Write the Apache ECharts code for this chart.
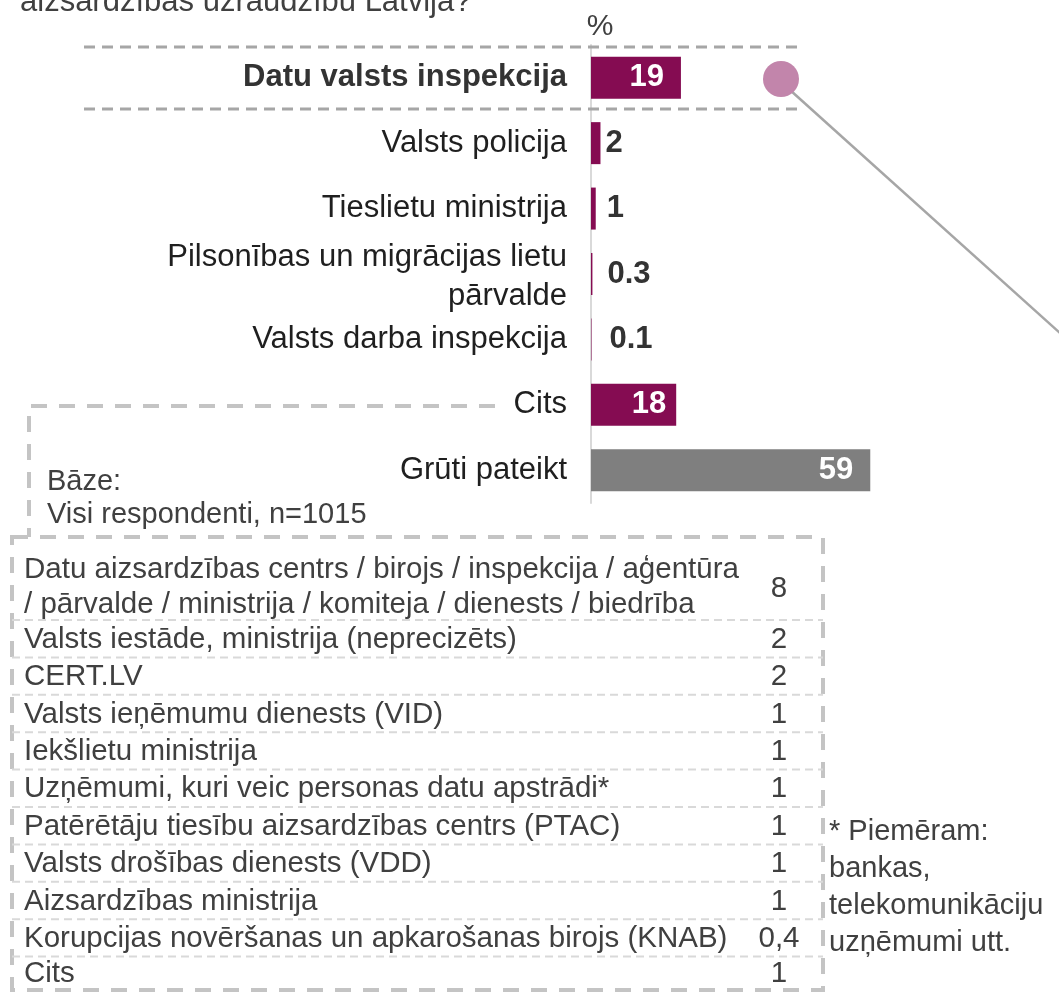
<!DOCTYPE html>
<html><head><meta charset="utf-8">
<script src="https://cdn.jsdelivr.net/npm/echarts@6/dist/echarts.min.js"></script>
<style>html,body{margin:0;padding:0;background:#fff}#c{width:1059px;height:995px}</style>
</head><body><div id="c"></div>
<script>
// ---- data ----
const titleText = 'aizsardzības uzraudzību Latvijā?';
const unitText = '%';
const categories = [
  'Datu valsts inspekcija',
  'Valsts policija',
  'Tieslietu ministrija',
  'Pilsonības un migrācijas lietu\npārvalde',
  'Valsts darba inspekcija',
  'Cits',
  'Grūti pateikt'
];
const values = [19, 2, 1, 0.3, 0.1, 18, 59];
const valueLabels = ['19', '2', '1', '0.3', '0.1', '18', '59'];
const baseText = ['Bāze:', 'Visi respondenti, n=1015'];
const tableLabels = [
  'Datu aizsardzības centrs / birojs / inspekcija / aģentūra\n/ pārvalde / ministrija / komiteja / dienests / biedrība',
  'Valsts iestāde, ministrija (neprecizēts)',
  'CERT.LV',
  'Valsts ieņēmumu dienests (VID)',
  'Iekšlietu ministrija',
  'Uzņēmumi, kuri veic personas datu apstrādi*',
  'Patērētāju tiesību aizsardzības centrs (PTAC)',
  'Valsts drošības dienests (VDD)',
  'Aizsardzības ministrija',
  'Korupcijas novēršanas un apkarošanas birojs (KNAB)',
  'Cits'
];
const tableValues = ['8', '2', '2', '1', '1', '1', '1', '1', '1', '0,4', '1'];
const noteText = ['* Piemēram:', 'bankas,', 'telekomunikāciju', 'uzņēmumi utt.'];

// ---- styles ----
const FONT = '"Liberation Sans", Arial, sans-serif';
const MAGENTA = '#850C52';
const GREY_BAR = '#7F7F7F';
const labelDistances = [17, 5, 11, 15, 18, 10, 17];

const chart = echarts.init(document.getElementById('c'), null, {renderer: 'canvas'});

const seriesData = values.map((v, i) => {
  const inside = v >= 10;
  return {
    value: v,
    itemStyle: {color: i === values.length - 1 ? GREY_BAR : MAGENTA},
    label: {
      show: true,
      position: inside ? 'insideRight' : 'right',
      distance: labelDistances[i],
      formatter: valueLabels[i],
      color: inside ? '#ffffff' : '#333333',
      fontWeight: 'bold',
      fontSize: 31,
      fontFamily: FONT
    }
  };
});

function txt(x, y, text, size, color, opts) {
  opts = opts || {};
  return {
    type: 'text', x: x, y: y, silent: true, z: 10,
    style: {
      text: text, fill: color,
      font: (opts.bold ? 'bold ' : '') + size + 'px ' + FONT,
      textAlign: opts.align || 'left', align: opts.align || 'left',
      textVerticalAlign: 'middle', verticalAlign: 'middle',
      lineHeight: opts.lineHeight || size
    }
  };
}

const graphics = [];
// title (second line, partly cut at the top)
graphics.push(txt(20, 2, titleText, 31, '#404040'));
graphics.push(txt(600, 27, unitText, 30, '#404040', {align: 'center'}));
// dashed lines around highlighted row
const dashTop = {stroke: '#A6A6A6', lineWidth: 3, lineDash: [11, 7]};
graphics.push({type: 'line', shape: {x1: 84, y1: 47, x2: 798, y2: 47}, style: dashTop, z: 1});
graphics.push({type: 'line', shape: {x1: 84, y1: 109, x2: 798, y2: 109}, style: dashTop, z: 1});
// circle + leader line
graphics.push({type: 'line', shape: {x1: 790, y1: 90, x2: 1070, y2: 342}, style: {stroke: '#A6A6A6', lineWidth: 2.5}, z: 2});
graphics.push({type: 'circle', shape: {cx: 781, cy: 79, r: 18}, style: {fill: '#C285AB'}, z: 3});

// Base box (top + left side)
const boxStyle = {stroke: '#C4C4C4', lineWidth: 4, lineDash: [16, 12], fill: null};
graphics.push({type: 'polyline', shape: {points: [[495, 406], [29, 406], [29, 537]]}, style: boxStyle, z: 1});
graphics.push(txt(47, 482, baseText[0], 29, '#404040'));
graphics.push(txt(47, 515, baseText[1], 29, '#404040'));

// table box
const tTop = 537, tBottom = 990, tLeft = 12, tRight = 823;
const firstRowBottom = 620, rowStep = 37.4;
graphics.push({type: 'rect', shape: {x: tLeft, y: tTop, width: tRight - tLeft, height: tBottom - tTop},
  style: {stroke: '#C4C4C4', lineWidth: 4, lineDash: [16, 12], fill: 'transparent'}, z: 1});
const sepStyle = {stroke: '#D9D9D9', lineWidth: 2, lineDash: [8, 5]};
const seps = [];
for (let i = 0; i < tableLabels.length - 1; i++) seps.push(firstRowBottom + i * rowStep);
seps.forEach(y => graphics.push({type: 'line', shape: {x1: tLeft, y1: y, x2: tRight, y2: y}, style: sepStyle, z: 1}));
tableLabels.forEach((lab, i) => {
  let cy;
  if (i === 0) cy = 587;
  else {
    const y0 = seps[i - 1];
    const y1 = i < seps.length ? seps[i] : tBottom;
    cy = (y0 + y1) / 2 + 1;
  }
  graphics.push(txt(24, cy, lab, 29.5, '#404040', {lineHeight: 35}));
  graphics.push(txt(779, i === 0 ? 589 : cy, tableValues[i], 29.5, '#404040', {align: 'center'}));
});
// note
noteText.forEach((t, i) => graphics.push(txt(829, 832 + i * 37, t, 29, '#404040')));

chart.setOption({
  animation: false,
  backgroundColor: '#ffffff',
  grid: {left: 591, top: 45, width: 284, height: 458, containLabel: false},
  xAxis: {type: 'value', min: 0, max: 60, show: false},
  yAxis: {
    type: 'category', data: categories, inverse: true,
    axisLine: {show: true, lineStyle: {color: '#D9D9D9', width: 2}},
    axisTick: {show: false},
    splitLine: {show: false},
    axisLabel: {
      margin: 24, fontSize: 31, fontFamily: FONT, color: '#1F1F1F', lineHeight: 39,
      formatter: (v, i) => i === 0 ? '{b|' + v + '}' : (i === 3 ? '{m|' + v + '}' : v),
      rich: {
        b: {fontWeight: 'bold', fontSize: 31, fontFamily: FONT, color: '#333333'},
        m: {fontSize: 31, fontFamily: FONT, color: '#1F1F1F', lineHeight: 39, padding: [5, 0, 0, 0]}
      }
    }
  },
  series: [{
    type: 'bar', data: seriesData, barWidth: 42, silent: true
  }],
  graphic: {elements: graphics}
});
</script></body></html>
